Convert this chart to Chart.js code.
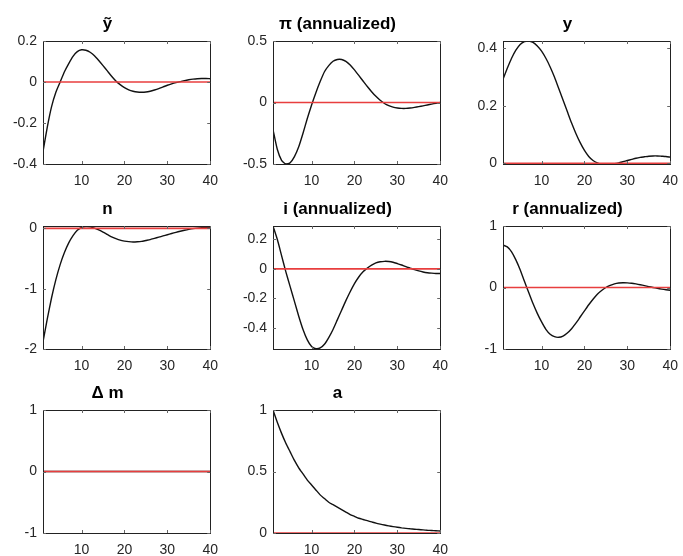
<!DOCTYPE html>
<html>
<head>
<meta charset="utf-8">
<script src="https://cdn.jsdelivr.net/npm/chart.js@4.4.1/dist/chart.umd.min.js"></script>
<style>
  html, body { margin: 0; padding: 0; background: #fff; }
  body { width: 683px; height: 556px; overflow: hidden; position: relative; }
  canvas { position: absolute; }
</style>
</head>
<body>
<script>
// horizon (quarters)
const periods = [1, 2, 3, 4, 5, 6, 7, 8, 9, 10, 11, 12, 13, 14, 15, 16, 17, 18, 19, 20,
  21, 22, 23, 24, 25, 26, 27, 28, 29, 30, 31, 32, 33, 34, 35, 36, 37, 38, 39, 40];
const xTicks = [10, 20, 30, 40];

// impulse responses
const outputGap = [-0.34, -0.22, -0.12, -0.05, 0.0, 0.05, 0.09, 0.125, 0.148, 0.157,
  0.155, 0.145, 0.128, 0.105, 0.08, 0.054, 0.028, 0.005, -0.013, -0.027,
  -0.038, -0.045, -0.049, -0.05, -0.049, -0.045, -0.039, -0.032, -0.024, -0.016,
  -0.009, -0.003, 0.002, 0.007, 0.011, 0.014, 0.016, 0.017, 0.017, 0.016];
const inflation = [-0.22, -0.38, -0.47, -0.5, -0.49, -0.44, -0.36, -0.25, -0.13, -0.02,
  0.08, 0.17, 0.25, 0.3, 0.335, 0.35, 0.35, 0.335, 0.305, 0.265,
  0.22, 0.175, 0.13, 0.088, 0.05, 0.018, -0.008, -0.026, -0.038, -0.045,
  -0.048, -0.048, -0.045, -0.04, -0.034, -0.027, -0.02, -0.013, -0.006, 0.0];
const output = [0.292, 0.33, 0.365, 0.393, 0.413, 0.423, 0.425, 0.42, 0.408, 0.39,
  0.365, 0.335, 0.3, 0.26, 0.22, 0.18, 0.14, 0.104, 0.072, 0.045,
  0.024, 0.01, 0.002, -0.002, -0.003, -0.003, -0.001, 0.002, 0.006, 0.01,
  0.014, 0.018, 0.021, 0.023, 0.025, 0.026, 0.026, 0.025, 0.024, 0.022];
const hours = [-1.88, -1.5, -1.15, -0.85, -0.6, -0.4, -0.24, -0.12, -0.03, 0.015,
  0.03, 0.025, 0.005, -0.025, -0.06, -0.1, -0.14, -0.17, -0.195, -0.21,
  -0.22, -0.225, -0.222, -0.215, -0.2, -0.185, -0.165, -0.145, -0.125, -0.105,
  -0.085, -0.065, -0.047, -0.03, -0.015, -0.003, 0.005, 0.01, 0.012, 0.012];
const nominalRate = [0.29, 0.2, 0.09, -0.02, -0.12, -0.22, -0.32, -0.41, -0.48, -0.525,
  -0.54, -0.535, -0.51, -0.465, -0.41, -0.345, -0.28, -0.215, -0.155, -0.1,
  -0.055, -0.02, 0.005, 0.025, 0.04, 0.048, 0.051, 0.05, 0.045, 0.036,
  0.026, 0.015, 0.005, -0.005, -0.014, -0.021, -0.026, -0.029, -0.031, -0.031];
const realRate = [0.69, 0.66, 0.58, 0.45, 0.29, 0.1, -0.08, -0.26, -0.42, -0.56,
  -0.68, -0.76, -0.8, -0.81, -0.79, -0.74, -0.67, -0.58, -0.48, -0.38,
  -0.28, -0.19, -0.11, -0.05, 0.0, 0.035, 0.06, 0.073, 0.078, 0.076,
  0.069, 0.058, 0.045, 0.03, 0.015, 0.0, -0.014, -0.026, -0.036, -0.044];
const moneyGrowth = [0, 0, 0, 0, 0, 0, 0, 0, 0, 0, 0, 0, 0, 0, 0, 0, 0, 0, 0, 0,
  0, 0, 0, 0, 0, 0, 0, 0, 0, 0, 0, 0, 0, 0, 0, 0, 0, 0, 0, 0];
const technology = [1, 0.9, 0.81, 0.73, 0.66, 0.59, 0.53, 0.48, 0.43, 0.39,
  0.35, 0.31, 0.28, 0.25, 0.23, 0.21, 0.19, 0.17, 0.15, 0.135,
  0.12, 0.11, 0.1, 0.09, 0.08, 0.072, 0.065, 0.058, 0.052, 0.047,
  0.042, 0.038, 0.034, 0.031, 0.028, 0.025, 0.022, 0.02, 0.018, 0.016];
const zeroLine = [0, 0, 0, 0, 0, 0, 0, 0, 0, 0, 0, 0, 0, 0, 0, 0, 0, 0, 0, 0,
  0, 0, 0, 0, 0, 0, 0, 0, 0, 0, 0, 0, 0, 0, 0, 0, 0, 0, 0, 0];

const titles = ["ỹ", "π (annualized)", "y", "n", "i (annualized)", "r (annualized)", "Δ m", "a"];
const series = [outputGap, inflation, output, hours, nominalRate, realRate, moneyGrowth, technology];
const yMins = [-0.4, -0.5, -0.002, -2, -0.542, -1, -1, 0];
const yMaxs = [0.2, 0.5, 0.425, 0.04, 0.29, 1, 1, 1];
const yTicks = [
  [-0.4, -0.2, 0, 0.2],
  [-0.5, 0, 0.5],
  [0, 0.2, 0.4],
  [-2, -1, 0],
  [-0.4, -0.2, 0, 0.2],
  [-1, 0, 1],
  [-1, 0, 1],
  [0, 0.5, 1]
];

// subplot grid
const colLeft = [43, 273, 503];
const rowTop = [41, 226, 410];
const boxW = 174, boxH = 123;
const padL = 45, padT = 41, padR = 10, padB = 30;

// draw the full box and inward ticks, matlab style
const boxPlugin = {
  id: 'box',
  afterDraw(chart) {
    const { ctx, chartArea: a, scales } = chart;
    ctx.save();
    ctx.strokeStyle = '#222';
    ctx.lineWidth = 1;
    ctx.strokeRect(Math.round(a.left) + 0.5, Math.round(a.top) + 0.5,
      Math.round(a.right - a.left), Math.round(a.bottom - a.top));
    ctx.beginPath();
    ctx.strokeStyle = '#666';
    scales.x.ticks.forEach(t => {
      const px = Math.round(scales.x.getPixelForValue(t.value)) + 0.5;
      ctx.moveTo(px, a.bottom); ctx.lineTo(px, a.bottom - 3);
      ctx.moveTo(px, a.top); ctx.lineTo(px, a.top + 3);
    });
    scales.y.ticks.forEach(t => {
      const py = Math.round(scales.y.getPixelForValue(t.value)) + 0.5;
      ctx.moveTo(a.left, py); ctx.lineTo(a.left + 3, py);
      ctx.moveTo(a.right, py); ctx.lineTo(a.right - 3, py);
    });
    ctx.stroke();
    ctx.restore();
  }
};

const font = "'Liberation Sans', Arial, Helvetica, sans-serif";

titles.forEach((title, k) => {
  const col = k % 3, row = Math.floor(k / 3);
  const canvas = document.createElement('canvas');
  canvas.width = padL + boxW + padR;
  canvas.height = padT + boxH + padB;
  canvas.style.left = (colLeft[col] - padL) + 'px';
  canvas.style.top = (rowTop[row] - padT) + 'px';
  document.body.appendChild(canvas);

  const ticksY = yTicks[k];
  new Chart(canvas.getContext('2d'), {
    type: 'line',
    data: {
      datasets: [
        // zero reference line, drawn on top
        {
          data: zeroLine.map((v, i) => ({ x: periods[i], y: v })),
          borderColor: 'rgb(232, 62, 62)',
          borderWidth: 1.6,
          pointRadius: 0,
          fill: false
        },
        {
          data: series[k].map((v, i) => ({ x: periods[i], y: v })),
          borderColor: '#111',
          borderWidth: 1.4,
          pointRadius: 0,
          tension: 0.2,
          fill: false
        }
      ]
    },
    options: {
      responsive: false,
      animation: false,
      layout: { padding: { top: 14, right: padR, left: 0, bottom: 0 } },
      plugins: {
        legend: { display: false },
        tooltip: { enabled: false },
        title: {
          display: true,
          text: title,
          color: '#000',
          font: { family: font, size: 17, weight: 'bold', lineHeight: 1.2 },
          padding: { top: 0, bottom: 6.6 }
        }
      },
      scales: {
        x: {
          type: 'linear',
          min: 1,
          max: 40,
          afterBuildTicks: s => { s.ticks = xTicks.map(v => ({ value: v })); },
          afterFit: s => { s.height = padB; },
          grid: { display: false, drawTicks: false },
          border: { display: false },
          ticks: { color: '#262626', padding: 9, maxRotation: 0, font: { family: font, size: 14 } }
        },
        y: {
          min: yMins[k],
          max: yMaxs[k],
          afterBuildTicks: s => { s.ticks = ticksY.map(v => ({ value: v })); },
          afterFit: s => { s.width = padL; },
          grid: { display: false, drawTicks: false },
          border: { display: false },
          ticks: {
            color: '#262626',
            padding: 6,
            font: { family: font, size: 14 },
            callback: v => String(v)
          }
        }
      }
    },
    plugins: [boxPlugin]
  });
});
</script>
</body>
</html>
